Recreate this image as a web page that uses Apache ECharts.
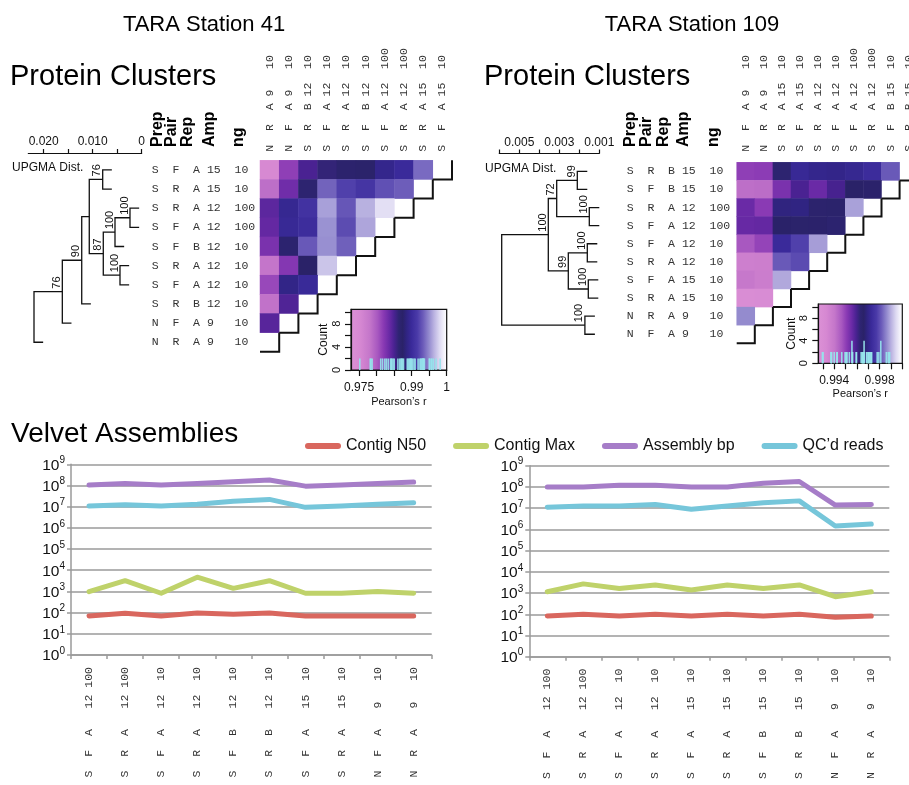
<!DOCTYPE html>
<html><head><meta charset="utf-8">
<script src="https://cdn.jsdelivr.net/npm/echarts@6/dist/echarts.min.js"></script>
<style>html,body{margin:0;padding:0;background:#fff}#c{width:909px;height:785px}</style>
</head><body><div id="c"></div>
<script>
// ================= DATA =================
// --- TARA Station 41 : protein-cluster correlation (Pearson's r) ---
const rows41 = ['S F A 15 10','S R A 15 10','S R A 12 100','S F A 12 100','S F B 12 10','S R A 12 10','S F A 12 10','S R B 12 10','N F A 9 10','N R A 9 10'];
// corr41[i][j] : row i vs column j (columns = rows in reverse order), lower-left triangle
const corr41 = [
  [0.9752,0.9817,0.9850,0.9861,0.9869,0.9872,0.9891,0.9899,0.9937],
  [0.9787,0.9833,0.9866,0.9934,0.9918,0.9910,0.9926,0.9932],
  [0.9842,0.9894,0.9907,0.9956,0.9929,0.9962,0.9981],
  [0.9839,0.9896,0.9902,0.9951,0.9924,0.9958],
  [0.9828,0.9877,0.9930,0.9950,0.9933],
  [0.9782,0.9823,0.9874,0.9970],
  [0.9812,0.9888,0.9898],
  [0.9784,0.9847],
  [0.9844]
];
const rMin41 = 0.9727;
// UPGMA tree (R hclust convention: negative = leaf row, positive = earlier merge)
const merge41 = [[-1,-2],[-3,-4],[2,-5],[-6,-7],[3,4],[1,5],[6,-8],[7,-9],[8,-10]];
const height41 = [0.00796,0.00239,0.00545,0.00443,0.00784,0.0107,0.01224,0.0162,0.02198];
const boot41 = [76,100,100,100,87,null,90,76,null];

// --- TARA Station 109 ---
const rows109 = ['S R B 15 10','S F B 15 10','S R A 12 100','S F A 12 100','S F A 12 10','S R A 12 10','S F A 15 10','S R A 15 10','N R A 9 10','N F A 9 10'];
const corr109 = [
  [0.99504,0.99508,0.99637,0.99719,0.99704,0.99700,0.99711,0.99730,0.99811],
  [0.99423,0.99427,0.99534,0.99593,0.99556,0.99597,0.99660,0.99663],
  [0.99556,0.99512,0.99686,0.99689,0.99645,0.99649,0.99882],
  [0.99560,0.99563,0.99656,0.99652,0.99663,0.99667],
  [0.99467,0.99497,0.99726,0.99778,0.99878],
  [0.99371,0.99375,0.99811,0.99793],
  [0.99401,0.99378,0.99889],
  [0.99297,0.99301],
  [0.99860]
];
const rMin109 = 0.9926;
const merge109 = [[-1,-2],[-3,-4],[1,2],[-5,-6],[-7,-8],[4,5],[3,6],[-9,-10],[7,8]];
const height109 = [0.0021,0.0015,0.00313,0.0016,0.00155,0.00255,0.00355,0.00172,0.00588];
const boot109 = [99,100,72,100,100,99,100,100,null];

// --- Velvet assemblies ---
const seriesNames = ['Contig N50','Contig Max','Assembly bp','QC\u2019d reads'];
const velvetCats41 = ['S F A 12 100','S R A 12 100','S F A 12 10','S R A 12 10','S F B 12 10','S R B 12 10','S F A 15 10','S R A 15 10','N F A 9 10','N R A 9 10'];
const n50_41 = [70,93,70,95,83,95,70,70,70,70];
const max41  = [980,3200,820,4700,1400,3200,820,820,980,820];
const asm41  = [1.05e8,1.25e8,1.05e8,1.25e8,1.5e8,1.8e8,9.3e7,1.05e8,1.25e8,1.45e8];
const qc41   = [1.07e7,1.23e7,1.07e7,1.3e7,1.8e7,2.2e7,9.3e6,1.07e7,1.3e7,1.55e7];
const velvetCats109 = ['S F A 12 100','S R A 12 100','S F A 12 10','S R A 12 10','S F A 15 10','S R A 15 10','S F B 15 10','S R B 15 10','N F A 9 10','N R A 9 10'];
const n50_109 = [83,100,83,100,83,100,83,100,72,83];
const max109  = [1150,2700,1650,2400,1400,2400,1650,2400,670,1150];
const asm109  = [1.0e8,1.0e8,1.2e8,1.2e8,1.0e8,1.0e8,1.5e8,1.8e8,1.4e7,1.5e7];
const qc109   = [1.1e7,1.26e7,1.26e7,1.5e7,8.9e6,1.26e7,1.8e7,2.2e7,1.45e6,1.78e6];

// ================= STYLE =================
const SANS = 'Liberation Sans';
const MONO = 'Liberation Mono';
const paletteStops = [[0,'#dc92d6'],[0.1,'#d688d2'],[0.2,'#c476ca'],[0.28,'#a858c0'],[0.34,'#8a3ab4'],[0.40,'#6a2aa6'],[0.45,'#4a2292'],[0.50,'#2e2472'],[0.54,'#2a2268'],[0.58,'#302482'],[0.63,'#3a2a9a'],[0.69,'#4a3aa8'],[0.75,'#6c5cba'],[0.81,'#938ace'],[0.86,'#b8b0e0'],[0.92,'#dedaf2'],[0.97,'#f6f5fc'],[1,'#ffffff']];
const lineColors = ['#d9675e','#bfd26a','#a67dc8','#76c6da'];

function hexToRgb(h){return [parseInt(h.slice(1,3),16),parseInt(h.slice(3,5),16),parseInt(h.slice(5,7),16)];}
function samplePalette(n){
  const out=[];
  for(let k=0;k<n;k++){
    const t=k/(n-1); let i=0;
    while(i<paletteStops.length-2 && paletteStops[i+1][0]<t) i++;
    const [t0,c0]=paletteStops[i],[t1,c1]=paletteStops[i+1];
    const u=Math.max(0,Math.min(1,(t-t0)/(t1-t0)));
    const a=hexToRgb(c0),b=hexToRgb(c1);
    out.push('rgb('+a.map((v,j)=>Math.round(v+(b[j]-v)*u)).join(',')+')');
  }
  return out;
}
const paletteColors = samplePalette(101);
const paletteGradient = {type:'linear',x:0,y:0,x2:1,y2:0,colorStops:paletteStops.map(([o,c])=>({offset:o,color:c}))};

// fixed-column monospace layout of "Prep Pair Rep Amp ng" labels
function padLabel(s){const f=s.split(' ');return f[0].padEnd(3)+f[1].padEnd(3)+f[2].padEnd(2)+f[3].padEnd(4)+f[4];}
function padVelvet(s){const f=s.split(' ');return f[0].padEnd(3)+f[1].padEnd(3)+f[2].padEnd(4)+f[3].padEnd(3)+f[4].padStart(3);}
const monoLabel = {fontFamily:MONO,fontSize:11.5,color:'#333'};

// ================= OPTION BUILD =================
const option = {animation:false, backgroundColor:'#fff', grid:[], xAxis:[], yAxis:[], series:[], visualMap:[], graphic:{elements:[]}};
function addGrid(g, xa, ya){
  option.grid.push(Object.assign({outerBoundsMode:'none',containLabel:false}, g));
  const idx=option.grid.length-1;
  option.xAxis.push(Object.assign({gridIndex:idx}, xa));
  option.yAxis.push(Object.assign({gridIndex:idx}, ya));
  return idx;
}
function text(x,y,str,o){
  o=o||{};
  option.graphic.elements.push({type:'text',x:x,y:y,rotation:o.rotation||0,silent:true,
    style:{text:str,fontSize:o.size||12,fontFamily:o.family||SANS,fontWeight:o.weight||'normal',fill:o.color||'#111',
      align:o.align||'left',verticalAlign:o.valign||'middle',textAlign:o.align||'left',textVerticalAlign:o.valign||'middle'}});
}

function dendroItems(merges, heights, boots){
  const hang = 0.085*Math.max.apply(null, heights);
  const info=[]; const items=[];
  merges.forEach((m,k)=>{
    const h=heights[k];
    const ch = c => c<0 ? {h:h-hang, y:-c-1} : info[c-1];
    const a=ch(m[0]), b=ch(m[1]);
    const y=(a.y+b.y)/2;
    info[k]={h:h,y:y};
    items.push([h,y,a.h,a.y,b.h,b.y,boots[k]==null?-1:boots[k]]);
  });
  return items;
}
function renderDendro(params, api){
  const h=api.value(0), y=api.value(1);
  const p1=api.coord([api.value(2),api.value(3)]), p2=api.coord([h,api.value(3)]);
  const p3=api.coord([h,api.value(5)]), p4=api.coord([api.value(4),api.value(5)]);
  const node=api.coord([h,y]); const bt=api.value(6);
  const children=[{type:'polyline',shape:{points:[p1,p2,p3,p4]},style:{stroke:'#111',lineWidth:1.3,fill:'none'}}];
  if(bt>=0) children.push({type:'text',x:node[0]-5.5,y:node[1]-3,rotation:Math.PI/2,
    style:{text:String(bt),fontSize:11,fontFamily:SANS,fill:'#111',align:'left',verticalAlign:'middle'}});
  return {type:'group',children:children};
}
function renderStair(params, api){
  const p=api.coord([api.value(0),api.value(1)]); const s=api.size([1,1]);
  return {type:'polyline',shape:{points:[[p[0]+s[0]/2,p[1]-s[1]/2],[p[0]+s[0]/2,p[1]+s[1]/2],[p[0]-s[0]/2,p[1]+s[1]/2]]},
    style:{stroke:'#111',lineWidth:2,fill:'none'}};
}
// each off-diagonal r appears twice in the symmetric matrix
function histogram(corr, vmin, bins){
  const w=(1-vmin)/bins; const counts={};
  corr.forEach(r=>r.forEach(v=>{const k=Math.min(bins-1,Math.floor((v-vmin)/w)); counts[k]=(counts[k]||0)+2;}));
  return Object.keys(counts).map(k=>[vmin+(+k+0.5)*w, counts[k]]);
}

function buildPanel(rows, corr, vmin, merges, heights, boots, L){
  const n=rows.length; const cols=rows.slice().reverse();
  // distance scale axis
  addGrid({left:L.scale.left,top:L.scale.top,width:L.scale.width,height:1},
    {type:'value',position:'top',inverse:true,min:L.scale.min,max:L.scale.max,
     axisLine:{show:true,lineStyle:{color:'#111',width:1.2}},
     axisTick:{show:true,inside:false,length:4,customValues:L.scale.ticks,lineStyle:{color:'#111',width:1.2}},
     axisLabel:{show:true,customValues:L.scale.labels,margin:4,fontFamily:SANS,fontSize:12,color:'#111',
       formatter:v=>v===0?'0':v.toFixed(3)},
     splitLine:{show:false}},
    {type:'value',show:false});
  text(L.scale.textX, L.scale.textY, 'UPGMA Dist.', {size:12});
  // dendrogram
  const dg=addGrid({left:L.dendro.left,top:L.dendro.top,width:L.dendro.width,height:L.dendro.height},
    {type:'value',show:false,inverse:true,min:0,max:L.dendro.max},
    {type:'value',show:false,inverse:true,min:-0.5,max:n-0.5});
  option.series.push({type:'custom',xAxisIndex:dg,yAxisIndex:dg,clip:false,silent:true,
    data:dendroItems(merges,heights,boots),renderItem:renderDendro});
  // heatmap
  const hg=addGrid({left:L.heat.left,top:L.heat.top,width:L.heat.width,height:L.heat.height},
    {type:'category',position:'top',data:cols,axisLine:{show:false},axisTick:{show:false},splitLine:{show:false},
     axisLabel:Object.assign({interval:0,rotate:-90,align:'left',verticalAlign:'middle',margin:L.heat.colMargin,formatter:padLabel},monoLabel)},
    {type:'category',inverse:true,data:rows,axisLine:{show:false},axisTick:{show:false},splitLine:{show:false},
     axisLabel:Object.assign({interval:0,align:'left',margin:L.heat.rowMargin,formatter:padLabel},monoLabel)});
  const hmData=[];
  corr.forEach((r,i)=>r.forEach((v,j)=>hmData.push([j,i,v])));
  const sIdx=option.series.length;
  option.series.push({type:'heatmap',xAxisIndex:hg,yAxisIndex:hg,data:hmData,silent:true,itemStyle:{borderWidth:0}});
  option.visualMap.push({type:'continuous',show:false,seriesIndex:sIdx,dimension:2,min:vmin,max:1,inRange:{color:paletteColors}});
  option.series.push({type:'custom',xAxisIndex:hg,yAxisIndex:hg,clip:false,silent:true,
    data:rows.map((_,i)=>[n-1-i,i]),renderItem:renderStair});
  // header
  ['Prep','Pair','Rep','Amp','ng'].forEach((h,k)=>text(L.header.x+L.header.dx[k], L.header.y, h,
    {size:16,weight:'bold',rotation:Math.PI/2,align:'left',valign:'middle',color:'#000'}));
  // inset colour key + histogram
  const ig=addGrid({left:L.inset.left,top:L.inset.top,width:L.inset.width,height:L.inset.height,show:true,
      borderColor:'#111',borderWidth:1.2,backgroundColor:paletteGradient},
    {type:'value',min:vmin,max:1,name:'Pearson\u2019s r',nameLocation:'middle',nameGap:L.inset.nameGap,
     nameTextStyle:{fontFamily:SANS,fontSize:11,color:'#111'},
     axisLine:{show:true,lineStyle:{color:'#111',width:1.2}},
     axisTick:{show:true,length:6,customValues:L.inset.ticks,lineStyle:{color:'#111',width:1.2}},
     axisLabel:{customValues:L.inset.labels,margin:L.inset.labelMargin,fontFamily:SANS,fontSize:12,color:'#111',
       formatter:v=>v===1?'1':String(+v.toFixed(3))},
     splitLine:{show:false}},
    {type:'value',min:0,max:10.5,name:'Count',nameLocation:'middle',nameGap:20,nameRotate:90,
     nameTextStyle:{fontFamily:SANS,fontSize:12,color:'#111'},
     axisLine:{show:true,lineStyle:{color:'#111',width:1.2}},
     axisTick:{show:true,length:6,customValues:[0,2,4,6,8,10],lineStyle:{color:'#111',width:1.2}},
     axisLabel:{customValues:[0,4,8],rotate:90,margin:9,fontFamily:SANS,fontSize:11,color:'#111'},
     splitLine:{show:false}});
  option.series.push({type:'bar',xAxisIndex:ig,yAxisIndex:ig,barWidth:1.6,silent:true,
    data:histogram(corr,vmin,256),itemStyle:{color:'rgba(150,228,236,0.92)'}});
}

buildPanel(rows41, corr41, rMin41, merge41, height41, boot41, {
  scale:{left:28.3,top:152,width:113.4,min:0,max:0.023143,ticks:[0,0.005,0.01,0.015,0.02],labels:[0,0.01,0.02],textX:12,textY:168},
  dendro:{left:28.3,top:160.3,width:113.4,height:191.5,max:0.023143},
  heat:{left:260,top:160.3,width:192,height:191.5,rowMargin:108.3,colMargin:8.6},
  header:{x:151.7,y:147,dx:[5.5,20,35.5,57.5,87]},
  inset:{left:351,top:309.3,width:95.7,height:60.7,ticks:[0.975,0.98,0.985,0.99,0.995,1],labels:[0.975,0.99,1],labelMargin:12,nameGap:26}
});
buildPanel(rows109, corr109, rMin109, merge109, height109, boot109, {
  scale:{left:499.3,top:152.5,width:100,min:0.001,max:0.006,ticks:[0.001,0.002,0.003,0.004,0.005,0.006],labels:[0.001,0.003,0.005],textX:485,textY:169},
  dendro:{left:495,top:162.3,width:124.3,height:181,max:0.006215},
  heat:{left:736.7,top:162.3,width:181,height:181,rowMargin:110,colMargin:10.6},
  header:{x:626.7,y:147,dx:[3.5,20,37,57,87]},
  inset:{left:818.3,top:304,width:84,height:59.3,ticks:[0.993,0.994,0.995,0.996,0.997,0.998,0.999,1],labels:[0.994,0.998],labelMargin:11,nameGap:25}
});

// ---- Velvet assemblies line charts ----
function buildVelvet(cats, vals, G){
  const g=addGrid({left:G.left,top:G.top,width:G.width,height:G.height},
    {type:'category',data:cats,boundaryGap:true,
     axisLine:{show:true,lineStyle:{color:'#9a9a9a',width:1.5}},
     axisTick:{show:true,length:4,alignWithLabel:false,lineStyle:{color:'#9a9a9a',width:1.5}},
     axisLabel:Object.assign({interval:0,rotate:90,margin:12,formatter:padVelvet},monoLabel),
     splitLine:{show:false}},
    {type:'log',logBase:10,min:1,max:1e9,splitNumber:9,
     axisLine:{show:true,lineStyle:{color:'#9a9a9a',width:1.5}},
     axisTick:{show:true,length:4,lineStyle:{color:'#9a9a9a',width:1.5}},
     splitLine:{show:true,lineStyle:{color:'#9a9a9a',width:1.5}},
     axisLabel:{margin:G.labelMargin,formatter:v=>'{d|10}{s|'+Math.round(Math.log10(v))+'}',
       rich:{d:{fontSize:15.5,fontFamily:SANS,color:'#111',lineHeight:18,verticalAlign:'bottom'},
             s:{fontSize:10,fontFamily:SANS,color:'#111',lineHeight:18,verticalAlign:'top'}}}});
  vals.forEach((arr,k)=>option.series.push({type:'line',name:seriesNames[k],xAxisIndex:g,yAxisIndex:g,data:arr,
    symbol:'none',silent:true,color:lineColors[k],lineStyle:{width:5,color:lineColors[k],cap:'round',join:'round'}}));
}
buildVelvet(velvetCats41,[n50_41,max41,asm41,qc41],{left:71,top:464.3,width:360.7,height:190.7,labelMargin:6});
buildVelvet(velvetCats109,[n50_109,max109,asm109,qc109],{left:529.3,top:465.7,width:360,height:191,labelMargin:6});

option.legend={left:300,top:433,itemWidth:36,itemHeight:6,itemGap:27,
  icon:'path://M3,0 L33,0 A3,3 0 0 1 33,6 L3,6 A3,3 0 0 1 3,0 Z',
  textStyle:{fontFamily:SANS,fontSize:16,color:'#111'},data:seriesNames,selectedMode:false};

// ---- titles ----
text(204,25,'TARA Station 41',{size:22,align:'center',color:'#000'});
text(692,25,'TARA Station 109',{size:22,align:'center',color:'#000'});
text(10,77,'Protein Clusters',{size:29,color:'#000'});
text(484,77,'Protein Clusters',{size:29,color:'#000'});
text(11,434,'Velvet Assemblies',{size:28,color:'#000'});

const chart=echarts.init(document.getElementById('c'),null,{renderer:'canvas',width:909,height:785});
chart.setOption(option);
</script></body></html>
